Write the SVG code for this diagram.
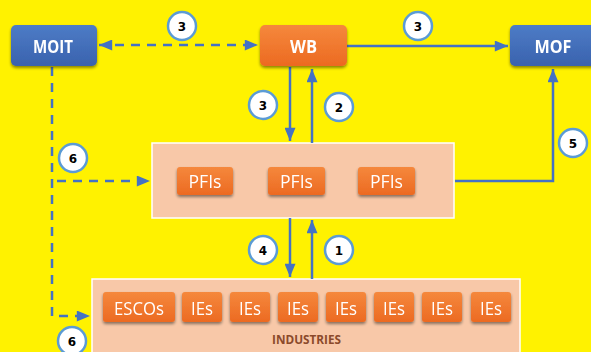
<svg xmlns="http://www.w3.org/2000/svg" width="591" height="352" viewBox="0 0 591 352">
<defs>
<linearGradient id="gBlue" x1="0" y1="0" x2="0" y2="1">
<stop offset="0" stop-color="#4D7CC6"/><stop offset="1" stop-color="#3A62AE"/>
</linearGradient>
<linearGradient id="gOrange" x1="0" y1="0" x2="0" y2="1">
<stop offset="0" stop-color="#F5883C"/><stop offset="1" stop-color="#EC6A22"/>
</linearGradient>
<filter id="sh" x="-20%" y="-20%" width="140%" height="160%">
<feGaussianBlur in="SourceAlpha" stdDeviation="1.5"/>
<feOffset dx="0" dy="2" result="b"/>
<feComponentTransfer><feFuncA type="linear" slope="0.45"/></feComponentTransfer>
<feMerge><feMergeNode/><feMergeNode in="SourceGraphic"/></feMerge>
</filter>
<marker id="a" viewBox="0 0 12 10" refX="12" refY="5" markerWidth="14" markerHeight="11" markerUnits="userSpaceOnUse" orient="auto-start-reverse">
<path d="M0,0 L12,5 L0,10 z" fill="#4472C4"/>
</marker>
</defs>
<style>
.main{filter:url(#sh)}
.blue{fill:url(#gBlue)}
.org{fill:url(#gOrange)}
.lbl{font-family:"Open Sans","DejaVu Sans",sans-serif;font-weight:bold;font-size:17px;fill:#fff;text-anchor:middle}
.btn{font-family:"Open Sans","DejaVu Sans",sans-serif;font-size:18px;fill:#fff;text-anchor:middle}
.panel{fill:#F8C8A8;stroke:#fff;stroke-width:1.5}
.ln{stroke:#4472C4;stroke-width:2.5;fill:none}
.dash{stroke-dasharray:9,7}
.circ{fill:#fff;stroke:#5B9BD5;stroke-width:2.5}
.num{font-family:"DejaVu Sans",sans-serif;font-weight:bold;font-size:12px;fill:#000;text-anchor:middle}
.ind{font-family:"Open Sans","DejaVu Sans",sans-serif;font-weight:bold;font-size:12px;fill:#8B4A2B;text-anchor:middle}
</style>
<rect width="591" height="352" fill="#FFF200"/>

<g id="PFI-panel">
<rect class="panel" x="152" y="143" width="302" height="75"/>
</g>
<g id="industries">
<rect class="panel" x="92" y="279" width="428" height="80"/>
<text class="ind" x="306.5" y="344" textLength="69" lengthAdjust="spacingAndGlyphs">INDUSTRIES</text>
</g>

<g id="connectors">
<line class="ln dash" x1="99" y1="45" x2="258" y2="45" marker-start="url(#a)" marker-end="url(#a)"/>
<line class="ln" x1="347" y1="46" x2="508" y2="46" marker-end="url(#a)"/>
<line class="ln" x1="290" y1="67" x2="290" y2="141" marker-end="url(#a)"/>
<line class="ln" x1="312" y1="143" x2="312" y2="69" marker-end="url(#a)"/>
<polyline class="ln" points="455,181 553,181 553,69" marker-end="url(#a)"/>
<line class="ln" x1="290" y1="218" x2="290" y2="277" marker-end="url(#a)"/>
<line class="ln" x1="312" y1="279" x2="312" y2="220" marker-end="url(#a)"/>
<polyline class="ln dash" points="52,67 52,316 90,316" marker-end="url(#a)"/>
<line class="ln dash" x1="57" y1="181" x2="150" y2="181" marker-end="url(#a)"/>
</g>

<g id="MOIT" class="main">
<rect class="blue" x="11" y="25" width="86" height="41" rx="5"/>
<text class="lbl" x="53" y="53" textLength="40" lengthAdjust="spacingAndGlyphs">MOIT</text>
</g>
<g id="WB" class="main">
<rect class="org" x="260" y="25" width="87" height="41" rx="5"/>
<text class="lbl" x="303.5" y="53" textLength="27" lengthAdjust="spacingAndGlyphs">WB</text>
</g>
<g id="MOF" class="main">
<rect class="blue" x="510" y="25" width="87" height="41" rx="5"/>
<text class="lbl" x="553" y="53" textLength="37" lengthAdjust="spacingAndGlyphs">MOF</text>
</g>

<g id="PFIs-1" class="main"><rect class="org" x="177" y="167" width="56" height="28" rx="3"/><text class="btn" x="205" y="188" textLength="33" lengthAdjust="spacingAndGlyphs">PFIs</text></g>
<g id="PFIs-2" class="main"><rect class="org" x="268" y="167" width="57" height="28" rx="3"/><text class="btn" x="296.5" y="188" textLength="33" lengthAdjust="spacingAndGlyphs">PFIs</text></g>
<g id="PFIs-3" class="main"><rect class="org" x="358" y="167" width="57" height="28" rx="3"/><text class="btn" x="386.5" y="188" textLength="33" lengthAdjust="spacingAndGlyphs">PFIs</text></g>

<g id="ESCOs" class="main"><rect class="org" x="103" y="292" width="72" height="30" rx="3"/><text class="btn" x="139" y="315" textLength="50" lengthAdjust="spacingAndGlyphs">ESCOs</text></g>
<g id="IEs-1" class="main"><rect class="org" x="182" y="292" width="40" height="30" rx="3"/><text class="btn" x="202" y="315" textLength="22" lengthAdjust="spacingAndGlyphs">IEs</text></g>
<g id="IEs-2" class="main"><rect class="org" x="230" y="292" width="40" height="30" rx="3"/><text class="btn" x="250" y="315" textLength="22" lengthAdjust="spacingAndGlyphs">IEs</text></g>
<g id="IEs-3" class="main"><rect class="org" x="278" y="292" width="40" height="30" rx="3"/><text class="btn" x="298" y="315" textLength="22" lengthAdjust="spacingAndGlyphs">IEs</text></g>
<g id="IEs-4" class="main"><rect class="org" x="326" y="292" width="40" height="30" rx="3"/><text class="btn" x="346" y="315" textLength="22" lengthAdjust="spacingAndGlyphs">IEs</text></g>
<g id="IEs-5" class="main"><rect class="org" x="374" y="292" width="40" height="30" rx="3"/><text class="btn" x="394" y="315" textLength="22" lengthAdjust="spacingAndGlyphs">IEs</text></g>
<g id="IEs-6" class="main"><rect class="org" x="422" y="292" width="40" height="30" rx="3"/><text class="btn" x="442" y="315" textLength="22" lengthAdjust="spacingAndGlyphs">IEs</text></g>
<g id="IEs-7" class="main"><rect class="org" x="471" y="292" width="40" height="30" rx="3"/><text class="btn" x="491" y="315" textLength="22" lengthAdjust="spacingAndGlyphs">IEs</text></g>

<g id="badges">
<g><circle class="circ" cx="182" cy="26" r="14"/><text class="num" x="182" y="30.5">3</text></g>
<g><circle class="circ" cx="418" cy="26" r="14"/><text class="num" x="418" y="30.5">3</text></g>
<g><circle class="circ" cx="263" cy="105" r="14"/><text class="num" x="263" y="109.5">3</text></g>
<g><circle class="circ" cx="339" cy="107" r="14"/><text class="num" x="339" y="111.5">2</text></g>
<g><circle class="circ" cx="573" cy="143" r="14"/><text class="num" x="573" y="147.5">5</text></g>
<g><circle class="circ" cx="73" cy="158" r="14"/><text class="num" x="73" y="162.5">6</text></g>
<g><circle class="circ" cx="263" cy="250" r="14"/><text class="num" x="263" y="254.5">4</text></g>
<g><circle class="circ" cx="339" cy="250" r="14"/><text class="num" x="339" y="254.5">1</text></g>
<g><circle class="circ" cx="72" cy="341" r="14"/><text class="num" x="72" y="345.5">6</text></g>
</g>
</svg>
